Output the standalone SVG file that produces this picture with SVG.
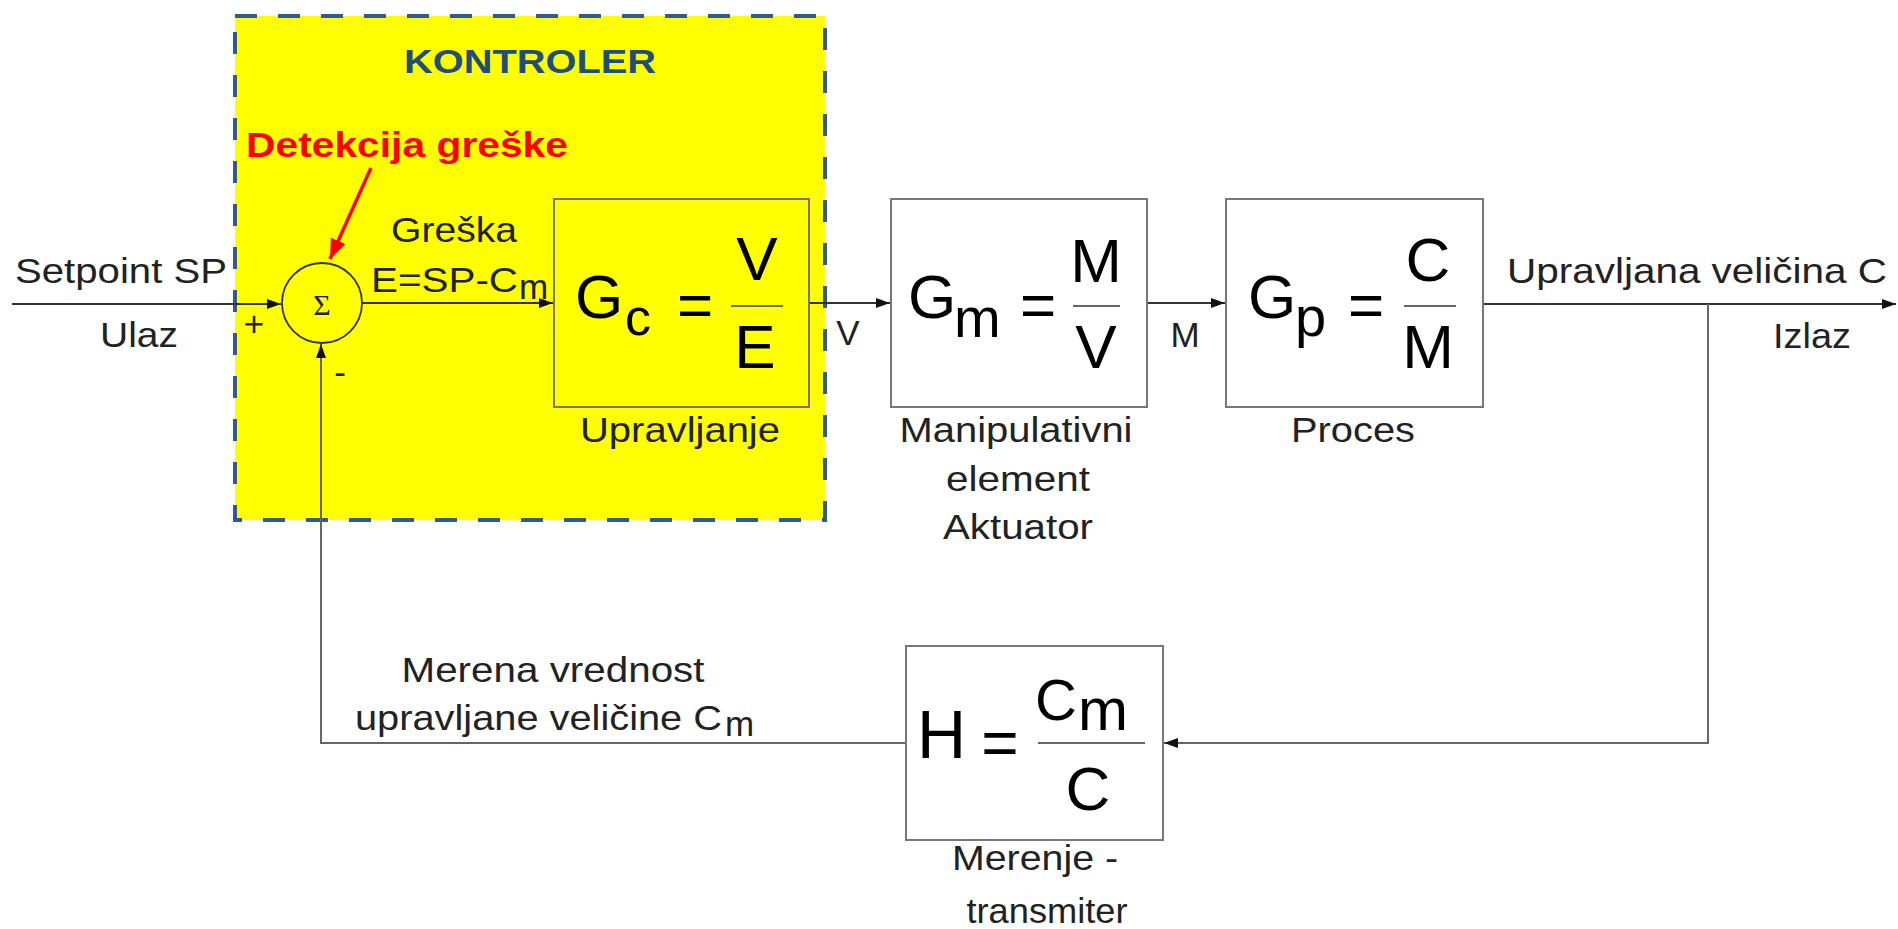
<svg xmlns="http://www.w3.org/2000/svg" width="1898" height="929" viewBox="0 0 1898 929">
<style>
.lbl{font-family:"Liberation Sans",Arial,sans-serif;font-size:35px;fill:#222}
.f{font-family:"Liberation Sans",Arial,sans-serif;fill:#000}
.box{fill:none;stroke:#777;stroke-width:2}
.ln{fill:none;stroke:#333;stroke-width:2}
.fb{fill:none;stroke:#666;stroke-width:2}
.frac{stroke:#666;stroke-width:2}
</style>
<defs>
<marker id="ah" markerUnits="userSpaceOnUse" markerWidth="16" markerHeight="12" refX="14" refY="5" orient="auto"><path d="M0,0 L14,5 L0,10 z" fill="#111"/></marker>
<marker id="ahr" markerUnits="userSpaceOnUse" markerWidth="22" markerHeight="18" refX="20" refY="8" orient="auto"><path d="M0,0 L20,8 L0,16 z" fill="#f00"/></marker>
</defs>
<rect width="1898" height="929" fill="#fff"/>

<g id="kontroler">
<rect x="235" y="16" width="590" height="504" fill="#ffff00" stroke="#2f5a92" stroke-width="4" stroke-dasharray="22 21"/>
<text x="530" y="73" text-anchor="middle" font-family="Liberation Sans,Arial,sans-serif" font-weight="bold" font-size="33" fill="#1f4e79" textLength="252" lengthAdjust="spacingAndGlyphs">KONTROLER</text>
<text x="246" y="157" font-family="Liberation Sans,Arial,sans-serif" font-weight="bold" font-size="35" fill="#ff0000" textLength="322" lengthAdjust="spacingAndGlyphs">Detekcija greške</text>
<line x1="371" y1="168" x2="330" y2="259" stroke="#f00" stroke-width="3.5" marker-end="url(#ahr)"/>
</g>

<g id="connectors">
<path class="ln" d="M12 304 H281" marker-end="url(#ah)"/>
<path class="ln" d="M362 303 H553" marker-end="url(#ah)"/>
<path class="ln" d="M809 303 H890" marker-end="url(#ah)"/>
<path class="ln" d="M1147 303 H1225" marker-end="url(#ah)"/>
<path class="ln" d="M1483 304 H1896" marker-end="url(#ah)"/>
<path class="fb" d="M1708 304 V743 H1164" marker-end="url(#ah)"/>
<path class="fb" d="M906 743 H321 V344" marker-end="url(#ah)"/>
</g>

<g id="labels">
<text class="lbl" x="15" y="283" textLength="212" lengthAdjust="spacingAndGlyphs">Setpoint SP</text>
<text class="lbl" x="139" y="347" text-anchor="middle" textLength="78" lengthAdjust="spacingAndGlyphs">Ulaz</text>
<text class="lbl" x="254" y="336" text-anchor="middle" font-size="30">+</text>
<text class="lbl" x="340" y="384" text-anchor="middle" font-size="30">-</text>
<text class="lbl" x="454" y="242" text-anchor="middle" textLength="126" lengthAdjust="spacingAndGlyphs">Greška</text>
<text class="lbl" x="371" y="292" textLength="147" lengthAdjust="spacingAndGlyphs">E=SP-C</text>
<text class="lbl" x="519" y="299" font-size="24">m</text>
<text class="lbl" x="848" y="345" text-anchor="middle">V</text>
<text class="lbl" x="1185" y="347" text-anchor="middle">M</text>
<text class="lbl" x="1507" y="283" textLength="380" lengthAdjust="spacingAndGlyphs">Upravljana veličina C</text>
<text class="lbl" x="1812" y="348" text-anchor="middle" textLength="78" lengthAdjust="spacingAndGlyphs">Izlaz</text>
<text class="lbl" x="553" y="682" text-anchor="middle" textLength="303" lengthAdjust="spacingAndGlyphs">Merena vrednost</text>
<text class="lbl" x="355" y="730" textLength="367" lengthAdjust="spacingAndGlyphs">upravljane veličine C</text>
<text class="lbl" x="725" y="736" font-size="24">m</text>
</g>

<g id="sum">
<circle cx="322" cy="303" r="40" fill="none" stroke="#333" stroke-width="1.8"/>
<text x="322" y="315" text-anchor="middle" font-family="Liberation Serif,Times New Roman,serif" font-size="30" fill="#222">Σ</text>
</g>

<g id="gc">
<rect class="box" x="554" y="199" width="255" height="208"/>
<text class="f" x="575" y="318" font-size="62">G</text>
<text class="f" x="625" y="335" font-size="52">c</text>
<text class="f" x="695" y="326" font-size="62" text-anchor="middle">=</text>
<line class="frac" x1="731" y1="306" x2="783" y2="306"/>
<text class="f" x="757" y="280" font-size="62" text-anchor="middle">V</text>
<text class="f" x="755" y="368" font-size="62" text-anchor="middle">E</text>
<text class="lbl" x="680" y="442" text-anchor="middle" textLength="200" lengthAdjust="spacingAndGlyphs">Upravljanje</text>
</g>

<g id="gm">
<rect class="box" x="891" y="199" width="256" height="208"/>
<text class="f" x="908" y="318" font-size="62">G</text>
<text class="f" x="954" y="337" font-size="56">m</text>
<text class="f" x="1038" y="326" font-size="62" text-anchor="middle">=</text>
<line class="frac" x1="1073" y1="306" x2="1120" y2="306"/>
<text class="f" x="1096" y="282" font-size="62" text-anchor="middle">M</text>
<text class="f" x="1096" y="368" font-size="62" text-anchor="middle">V</text>
<text class="lbl" x="1016" y="442" text-anchor="middle" textLength="233" lengthAdjust="spacingAndGlyphs">Manipulativni</text>
<text class="lbl" x="1018" y="491" text-anchor="middle" textLength="144" lengthAdjust="spacingAndGlyphs">element</text>
<text class="lbl" x="1018" y="539" text-anchor="middle" textLength="150" lengthAdjust="spacingAndGlyphs">Aktuator</text>
</g>

<g id="gp">
<rect class="box" x="1226" y="199" width="257" height="208"/>
<text class="f" x="1248" y="318" font-size="62">G</text>
<text class="f" x="1295" y="336" font-size="56">p</text>
<text class="f" x="1366" y="326" font-size="62" text-anchor="middle">=</text>
<line class="frac" x1="1404" y1="306" x2="1456" y2="306"/>
<text class="f" x="1428" y="281" font-size="62" text-anchor="middle">C</text>
<text class="f" x="1428" y="368" font-size="62" text-anchor="middle">M</text>
<text class="lbl" x="1353" y="442" text-anchor="middle" textLength="124" lengthAdjust="spacingAndGlyphs">Proces</text>
</g>

<g id="h">
<rect class="box" x="906" y="646" width="257" height="194"/>
<text class="f" x="917" y="758" font-size="68">H</text>
<text class="f" x="1000" y="765" font-size="64" text-anchor="middle">=</text>
<line class="frac" x1="1038" y1="743" x2="1145" y2="743"/>
<text class="f" x="1035" y="720" font-size="58">C</text>
<text class="f" x="1078" y="730" font-size="60">m</text>
<text class="f" x="1088" y="810" font-size="62" text-anchor="middle">C</text>
<text class="lbl" x="1035" y="870" text-anchor="middle" textLength="166" lengthAdjust="spacingAndGlyphs">Merenje -</text>
<text class="lbl" x="1047" y="923" text-anchor="middle" textLength="161" lengthAdjust="spacingAndGlyphs">transmiter</text>
</g>
</svg>
